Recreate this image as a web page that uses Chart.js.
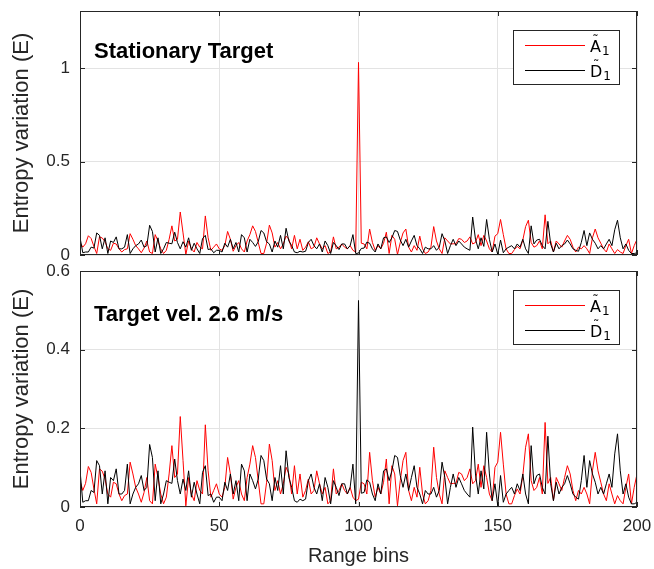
<!DOCTYPE html>
<html>
<head>
<meta charset="utf-8">
<script src="https://cdn.jsdelivr.net/npm/chart.js@4.4.1/dist/chart.umd.min.js"></script>
<style>
body { margin: 0; background: #fff; width: 654px; height: 569px; overflow: hidden; position: relative; }
#topChart { position: absolute; left: 0; top: 0; }
#bottomChart { position: absolute; left: 0; top: 260px; }
</style>
</head>
<body>
<canvas id="topChart" width="654" height="260"></canvas>
<canvas id="bottomChart" width="654" height="309"></canvas>
<script>
// range bins 0..200
var bins = [];
for (var b = 0; b <= 200; b++) bins.push(b);

// entropy variation of A~1 (red), bin 0..200
var redValues = [
    0.067, 0.042, 0.060, 0.103, 0.088, 0.046, 0.008, 0.097, 0.091, 0.071,
    0.033, 0.025, 0.063, 0.059, 0.033, 0.016, 0.029, 0.033, 0.114, 0.084,
    0.050, 0.033, 0.012, 0.037, 0.075, 0.016, 0.008, 0.109, 0.075, 0.033,
    0.008, 0.025, 0.084, 0.156, 0.075, 0.084, 0.230, 0.118, 0.003, 0.075,
    0.033, 0.016, 0.067, 0.042, 0.033, 0.209, 0.092, 0.025, 0.042, 0.059,
    0.033, 0.025, 0.050, 0.126, 0.084, 0.020, 0.050, 0.067, 0.033, 0.016,
    0.075, 0.109, 0.156, 0.126, 0.067, 0.008, 0.008, 0.063, 0.160, 0.118,
    0.042, 0.067, 0.033, 0.059, 0.101, 0.084, 0.033, 0.105, 0.033, 0.084,
    0.025, 0.042, 0.071, 0.033, 0.042, 0.092, 0.059, 0.033, 0.050, 0.008,
    0.016, 0.097, 0.033, 0.042, 0.059, 0.042, 0.033, 0.050, 0.025, 0.016,
    0.020, 0.063, 0.059, 0.033, 0.139, 0.067, 0.025, 0.050, 0.033, 0.063,
    0.122, 0.008, 0.105, 0.084, 0.003, 0.067, 0.118, 0.139, 0.042, 0.016,
    0.050, 0.025, 0.101, 0.033, 0.008, 0.016, 0.042, 0.152, 0.075, 0.033,
    0.008, 0.092, 0.075, 0.059, 0.060, 0.060, 0.088, 0.084, 0.067, 0.075,
    0.097, 0.059, 0.067, 0.109, 0.050, 0.105, 0.075, 0.033, 0.016, 0.101,
    0.114, 0.190, 0.109, 0.033, 0.008, 0.008, 0.029, 0.046, 0.033, 0.080,
    0.152, 0.186, 0.067, 0.042, 0.050, 0.075, 0.033, 0.215, 0.060, 0.075,
    0.016, 0.075, 0.059, 0.042, 0.075, 0.105, 0.084, 0.042, 0.016, 0.042,
    0.033, 0.050, 0.033, 0.008, 0.092, 0.139, 0.092, 0.063, 0.033, 0.016,
    0.059, 0.033, 0.008, 0.029, 0.016, 0.008, 0.050, 0.084, 0.008, 0.050,
    0.084
];

// entropy variation of D~1 (black), bin 0..200
var blackValues = [
    0.094, 0.012, 0.016, 0.016, 0.042, 0.037, 0.118, 0.105, 0.033, 0.092,
    0.008, 0.075, 0.067, 0.097, 0.033, 0.033, 0.042, 0.109, 0.008, 0.033,
    0.050, 0.059, 0.080, 0.042, 0.050, 0.159, 0.126, 0.016, 0.092, 0.008,
    0.033, 0.067, 0.063, 0.060, 0.122, 0.067, 0.033, 0.071, 0.042, 0.092,
    0.025, 0.063, 0.033, 0.008, 0.088, 0.105, 0.029, 0.033, 0.012, 0.025,
    0.025, 0.016, 0.063, 0.042, 0.084, 0.033, 0.067, 0.016, 0.109, 0.092,
    0.016, 0.084, 0.067, 0.046, 0.071, 0.131, 0.118, 0.071, 0.059, 0.016,
    0.075, 0.042, 0.105, 0.033, 0.143, 0.075, 0.050, 0.016, 0.012, 0.020,
    0.016, 0.020, 0.067, 0.084, 0.050, 0.033, 0.059, 0.016, 0.075, 0.050,
    0.008, 0.067, 0.050, 0.029, 0.059, 0.059, 0.033, 0.050, 0.109, 0.008,
    0.010, 0.035, 0.037, 0.069, 0.063, 0.033, 0.016, 0.059, 0.033, 0.092,
    0.097, 0.067, 0.092, 0.131, 0.126, 0.080, 0.050, 0.084, 0.042, 0.075,
    0.105, 0.050, 0.033, 0.008, 0.042, 0.033, 0.033, 0.050, 0.025, 0.042,
    0.114, 0.075, 0.008, 0.050, 0.084, 0.050, 0.075, 0.059, 0.042, 0.033,
    0.025, 0.203, 0.084, 0.033, 0.092, 0.046, 0.190, 0.084, 0.016, 0.059,
    0.003, 0.080, 0.012, 0.033, 0.042, 0.050, 0.033, 0.059, 0.042, 0.084,
    0.033, 0.008, 0.156, 0.059, 0.080, 0.084, 0.050, 0.033, 0.180, 0.059,
    0.016, 0.063, 0.033, 0.050, 0.059, 0.080, 0.059, 0.033, 0.025, 0.020,
    0.067, 0.131, 0.050, 0.118, 0.084, 0.063, 0.033, 0.050, 0.033, 0.059,
    0.084, 0.050, 0.135, 0.186, 0.092, 0.033, 0.059, 0.025, 0.008, 0.008,
    0.012
];

// the target peak sits in bin 100
var peakBin = 100;
var stationaryRedPeak = 1.03;   // A~1, stationary target
var movingBlackPeak = 0.525;    // D~1, target vel. 2.6 m/s

var xTicks = [0, 50, 100, 150, 200];
var topYTicks = [0, 0.5, 1];
var bottomYTicks = [0, 0.2, 0.4, 0.6];

function withPeak(values, peak) {
    var out = values.slice();
    out[peakBin] = peak;
    return out;
}

function toPoints(values) {
    return bins.map(function (x, i) { return { x: x, y: values[i] }; });
}

var axisColor = '#262626';
var gridColor = '#e3e3e3';
var fontFamily = '"Liberation Sans", Arial, sans-serif';

// MATLAB style box, inward ticks, panel text and legend
var matlabBox = {
    id: 'matlabBox',
    afterDraw: function (chart, args, opts) {
        var ctx = chart.ctx, a = chart.chartArea;
        var xs = chart.scales.x, ys = chart.scales.y;
        ctx.save();
        ctx.strokeStyle = axisColor;
        ctx.lineWidth = 1;
        ctx.strokeRect(Math.round(a.left) + 0.5, Math.round(a.top) + 0.5,
            Math.round(a.right - a.left) - 1, Math.round(a.bottom - a.top) - 1);
        ctx.beginPath();
        xs.ticks.forEach(function (t) {
            var px = Math.round(xs.getPixelForValue(t.value)) + 0.5;
            ctx.moveTo(px, a.bottom); ctx.lineTo(px, a.bottom - 5);
            ctx.moveTo(px, a.top); ctx.lineTo(px, a.top + 5);
        });
        ys.ticks.forEach(function (t) {
            var py = Math.round(ys.getPixelForValue(t.value)) + 0.5;
            ctx.moveTo(a.left, py); ctx.lineTo(a.left + 5, py);
            ctx.moveTo(a.right, py); ctx.lineTo(a.right - 5, py);
        });
        ctx.stroke();

        // panel title
        ctx.fillStyle = '#000';
        ctx.font = 'bold 22px ' + fontFamily;
        ctx.textBaseline = 'alphabetic';
        ctx.textAlign = 'left';
        ctx.fillText(opts.title, a.left + 14, a.top + opts.titleOffset);

        // legend
        var lx = Math.round(a.right) - 124, ly = Math.round(a.top) + 19;
        ctx.fillStyle = '#fff';
        ctx.fillRect(lx, ly, 106, 54);
        ctx.strokeStyle = axisColor;
        ctx.strokeRect(lx + 0.5, ly + 0.5, 106, 54);
        var entries = [
            { letter: 'A', color: '#ff0000', dy: 15 },
            { letter: 'D', color: '#000000', dy: 40 }
        ];
        entries.forEach(function (e) {
            ctx.fillStyle = e.color;
            ctx.fillRect(lx + 12, ly + e.dy, 60, 1);
            ctx.fillStyle = '#000';
            ctx.font = '16px "DejaVu Sans", sans-serif';
            var tx = lx + 77, ty = ly + e.dy + 7;
            ctx.fillText(e.letter, tx, ty);
            var w = ctx.measureText(e.letter).width;
            ctx.font = '13px "DejaVu Sans", sans-serif';
            ctx.textAlign = 'center';
            ctx.fillText('\u02DC', tx + w / 2, ty - 8);
            ctx.textAlign = 'left';
            ctx.font = '12px "DejaVu Sans", sans-serif';
            ctx.fillText('1', tx + w + 1, ty + 3);
        });
        ctx.restore();
    }
};

function tickLabel(v) {
    return String(Math.round(v * 100) / 100);
}

function makeChart(canvasId, red, black, yMax, yTicks, showX, panel) {
    var ctx = document.getElementById(canvasId).getContext('2d');
    return new Chart(ctx, {
        type: 'line',
        data: {
            datasets: [
                { label: 'A\u0303\u2081', data: toPoints(red), borderColor: '#ff0000', borderWidth: 1, pointRadius: 0, order: 1 },
                { label: 'D\u0303\u2081', data: toPoints(black), borderColor: '#000000', borderWidth: 1, pointRadius: 0, order: 0 }
            ]
        },
        options: {
            responsive: false,
            animation: false,
            events: [],
            layout: { padding: { top: 11, right: 17, left: 0, bottom: 0 } },
            plugins: {
                legend: { display: false },
                tooltip: { enabled: false },
                matlabBox: panel
            },
            scales: {
                x: {
                    type: 'linear',
                    min: 0,
                    max: 200,
                    afterBuildTicks: function (s) { s.ticks = xTicks.map(function (v) { return { value: v }; }); },
                    afterFit: function (s) {
                        s.height = showX ? 62 : 5;
                        s.paddingLeft = 0;
                        s.paddingRight = 0;
                    },
                    grid: { color: gridColor, drawTicks: false },
                    border: { display: false },
                    ticks: {
                        display: showX,
                        padding: 9,
                        color: axisColor,
                        callback: tickLabel,
                        font: { family: fontFamily, size: 17 }
                    },
                    title: {
                        display: showX,
                        text: 'Range bins',
                        color: axisColor,
                        padding: { top: 0, bottom: 1 },
                        font: { family: fontFamily, size: 20 }
                    }
                },
                y: {
                    min: 0,
                    max: yMax,
                    afterBuildTicks: function (s) { s.ticks = yTicks.map(function (v) { return { value: v }; }); },
                    afterFit: function (s) {
                        s.width = 80;
                        s.paddingTop = 0;
                        s.paddingBottom = 0;
                    },
                    grid: { color: gridColor, drawTicks: false },
                    border: { display: false },
                    ticks: {
                        padding: 10,
                        color: axisColor,
                        callback: tickLabel,
                        font: { family: fontFamily, size: 17 }
                    },
                    title: {
                        display: true,
                        text: 'Entropy variation (E)',
                        color: axisColor,
                        padding: { top: 9, bottom: 0 },
                        font: { family: fontFamily, size: 22 }
                    }
                }
            }
        },
        plugins: [matlabBox]
    });
}

makeChart('topChart', withPeak(redValues, stationaryRedPeak), blackValues, 1.305, topYTicks, false,
    { title: 'Stationary Target', titleOffset: 47 });
makeChart('bottomChart', redValues, withPeak(blackValues, movingBlackPeak), 0.6, bottomYTicks, true,
    { title: 'Target vel. 2.6 m/s', titleOffset: 50 });
</script>
</body>
</html>
